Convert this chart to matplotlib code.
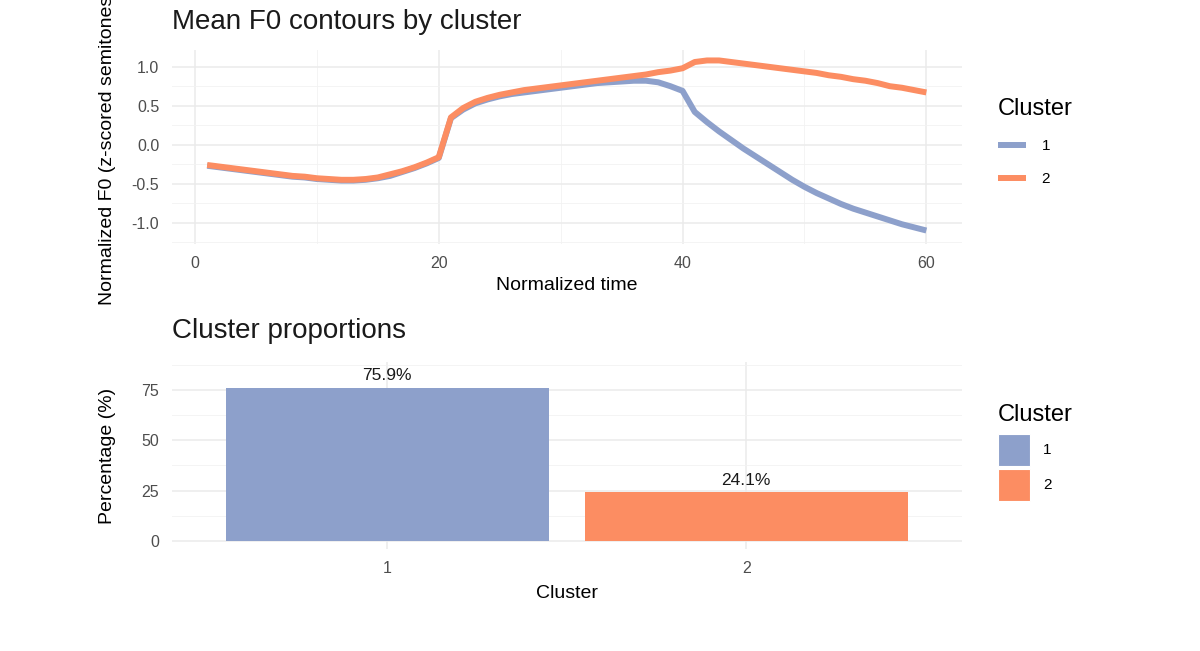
import numpy as np
import matplotlib
matplotlib.use("Agg")
import matplotlib.pyplot as plt
from matplotlib.patches import Patch
from matplotlib.ticker import FixedLocator, FuncFormatter

plt.rcParams['font.family'] = ['Liberation Sans', 'DejaVu Sans']

# ---------------- data ----------------
time = list(range(1, 61))
cluster1 = [-0.27, -0.29, -0.31, -0.33, -0.35, -0.37, -0.39, -0.41, -0.42, -0.44,
            -0.45, -0.46, -0.46, -0.45, -0.43, -0.40, -0.35, -0.30, -0.24, -0.17,
            0.34, 0.45, 0.53, 0.58, 0.62, 0.65, 0.67, 0.69, 0.71, 0.73,
            0.75, 0.77, 0.79, 0.80, 0.81, 0.82, 0.82, 0.80, 0.75, 0.69,
            0.42, 0.29, 0.17, 0.06, -0.05, -0.15, -0.25, -0.35, -0.45, -0.54,
            -0.62, -0.69, -0.76, -0.82, -0.87, -0.92, -0.97, -1.02, -1.06, -1.10]
cluster2 = [-0.26, -0.28, -0.30, -0.32, -0.34, -0.36, -0.38, -0.40, -0.41, -0.43,
            -0.44, -0.45, -0.45, -0.44, -0.42, -0.38, -0.34, -0.29, -0.23, -0.16,
            0.35, 0.47, 0.55, 0.60, 0.64, 0.67, 0.70, 0.72, 0.74, 0.76,
            0.78, 0.80, 0.82, 0.84, 0.86, 0.88, 0.90, 0.93, 0.95, 0.98,
            1.06, 1.08, 1.08, 1.06, 1.04, 1.02, 1.00, 0.98, 0.96, 0.94,
            0.92, 0.89, 0.87, 0.84, 0.82, 0.79, 0.75, 0.73, 0.70, 0.67]
cluster_labels = ['1', '2']
percentages = [75.9, 24.1]
colors = ['#8DA0CB', '#FC8D62']

# ---------------- figure ----------------
W, H = 1200, 651
fig = plt.figure(figsize=(W / 100, H / 100), dpi=100)

def ax_rect(l, t, r, b):
    return [l / W, 1 - b / H, (r - l) / W, (b - t) / H]

grid_major = dict(color='#EBEBEB', linewidth=1.1)
grid_minor = dict(color='#F2F2F2', linewidth=0.6)
tick_col = '#4D4D4D'

def style(ax):
    for s in ax.spines.values():
        s.set_visible(False)
    ax.set_facecolor('white')
    ax.tick_params(which='both', length=0, colors=tick_col, labelsize=11.5)
    ax.tick_params(axis='x', pad=8.5)
    ax.tick_params(axis='y', pad=9)
    ax.grid(True, which='major', **grid_major)
    ax.grid(True, which='minor', **grid_minor)
    ax.set_axisbelow(True)

# ---- top: lines ----
ax1 = fig.add_axes(ax_rect(171.7, 50, 961.7, 244))
style(ax1)
ax1.plot(time, cluster1, color=colors[0], lw=4.3, label=cluster_labels[0], solid_capstyle='butt')
ax1.plot(time, cluster2, color=colors[1], lw=4.3, label=cluster_labels[1], solid_capstyle='butt')
ax1.set_xlim(-1.91, 62.9)
ax1.set_ylim(-1.273, 1.214)
ax1.xaxis.set_major_locator(FixedLocator([0, 20, 40, 60]))
ax1.xaxis.set_minor_locator(FixedLocator([10, 30, 50]))
ax1.yaxis.set_major_locator(FixedLocator([-1.0, -0.5, 0.0, 0.5, 1.0]))
ax1.yaxis.set_minor_locator(FixedLocator([-1.25, -0.75, -0.25, 0.25, 0.75]))
ax1.yaxis.set_major_formatter(FuncFormatter(lambda v, p: f"{v:.1f}".replace('\u2212', '-')))
ax1.set_title('Mean F0 contours by cluster', loc='left', fontsize=20, pad=0,
              y=1 + 28 / 194, va='center', color='#1A1A1A')
ax1.set_xlabel('Normalized time', fontsize=14)
ax1.xaxis.label.set_va('center')
ax1.xaxis.set_label_coords(0.5, (244 - 285) / 194)
ax1.set_ylabel('Normalized F0 (z-scored semitones)', fontsize=14)
ax1.yaxis.label.set_va('center')
ax1.yaxis.set_label_coords((108 - 171.7) / 790, 0.5)

fs_leg = 11
leg1 = ax1.legend(loc='upper left', bbox_to_anchor=(998 / W, 1 - 98 / H),
                  bbox_transform=fig.transFigure, frameon=False, borderpad=0,
                  borderaxespad=0, title='Cluster', title_fontsize=17,
                  fontsize=fs_leg, handlelength=1.85, handletextpad=1.0,
                  labelspacing=1.24, alignment='left')

# ---- bottom: bars ----
ax2 = fig.add_axes(ax_rect(171.7, 362, 961.7, 549))
style(ax2)
xpos = np.arange(1, len(cluster_labels) + 1)
bars = ax2.bar(xpos, percentages, width=0.9, color=colors)
for b, p in zip(bars, percentages):
    ax2.annotate(f"{p:.1f}%", (b.get_x() + b.get_width() / 2, p),
                 xytext=(0, 3.5), textcoords='offset points',
                 ha='center', va='bottom', fontsize=12.5, color='#1A1A1A')
ax2.set_xlim(0.4, 2.6)
ax2.set_ylim(-4.05, 88.9)
ax2.xaxis.set_major_locator(FixedLocator(list(xpos)))
ax2.set_xticklabels(cluster_labels)
ax2.yaxis.set_major_locator(FixedLocator([0, 25, 50, 75]))
ax2.yaxis.set_minor_locator(FixedLocator([12.5, 37.5, 62.5, 87.5]))
ax2.grid(False, axis='x', which='minor')
ax2.set_title('Cluster proportions', loc='left', fontsize=20, pad=0,
              y=1 + 31 / 187, va='center', color='#1A1A1A')
ax2.set_xlabel('Cluster', fontsize=14)
ax2.xaxis.label.set_va('center')
ax2.xaxis.set_label_coords(0.5, (549 - 593) / 187)
ax2.set_ylabel('Percentage (%)', fontsize=14)
ax2.yaxis.label.set_va('center')
ax2.yaxis.set_label_coords((108 - 171.7) / 790, 0.5)

handles = [Patch(facecolor=c, edgecolor='white', linewidth=0.8) for c in colors]
leg2 = ax2.legend(handles, cluster_labels, loc='upper left',
                  bbox_to_anchor=(998 / W, 1 - 404 / H),
                  bbox_transform=fig.transFigure, frameon=False, borderpad=0,
                  borderaxespad=0, title='Cluster', title_fontsize=17,
                  fontsize=fs_leg, handlelength=2.1, handleheight=2.84,
                  handletextpad=0.85, labelspacing=0.2, alignment='left')
leg2._legend_box.sep = 5.5

fig.savefig('out.png', dpi=100, facecolor='white')
